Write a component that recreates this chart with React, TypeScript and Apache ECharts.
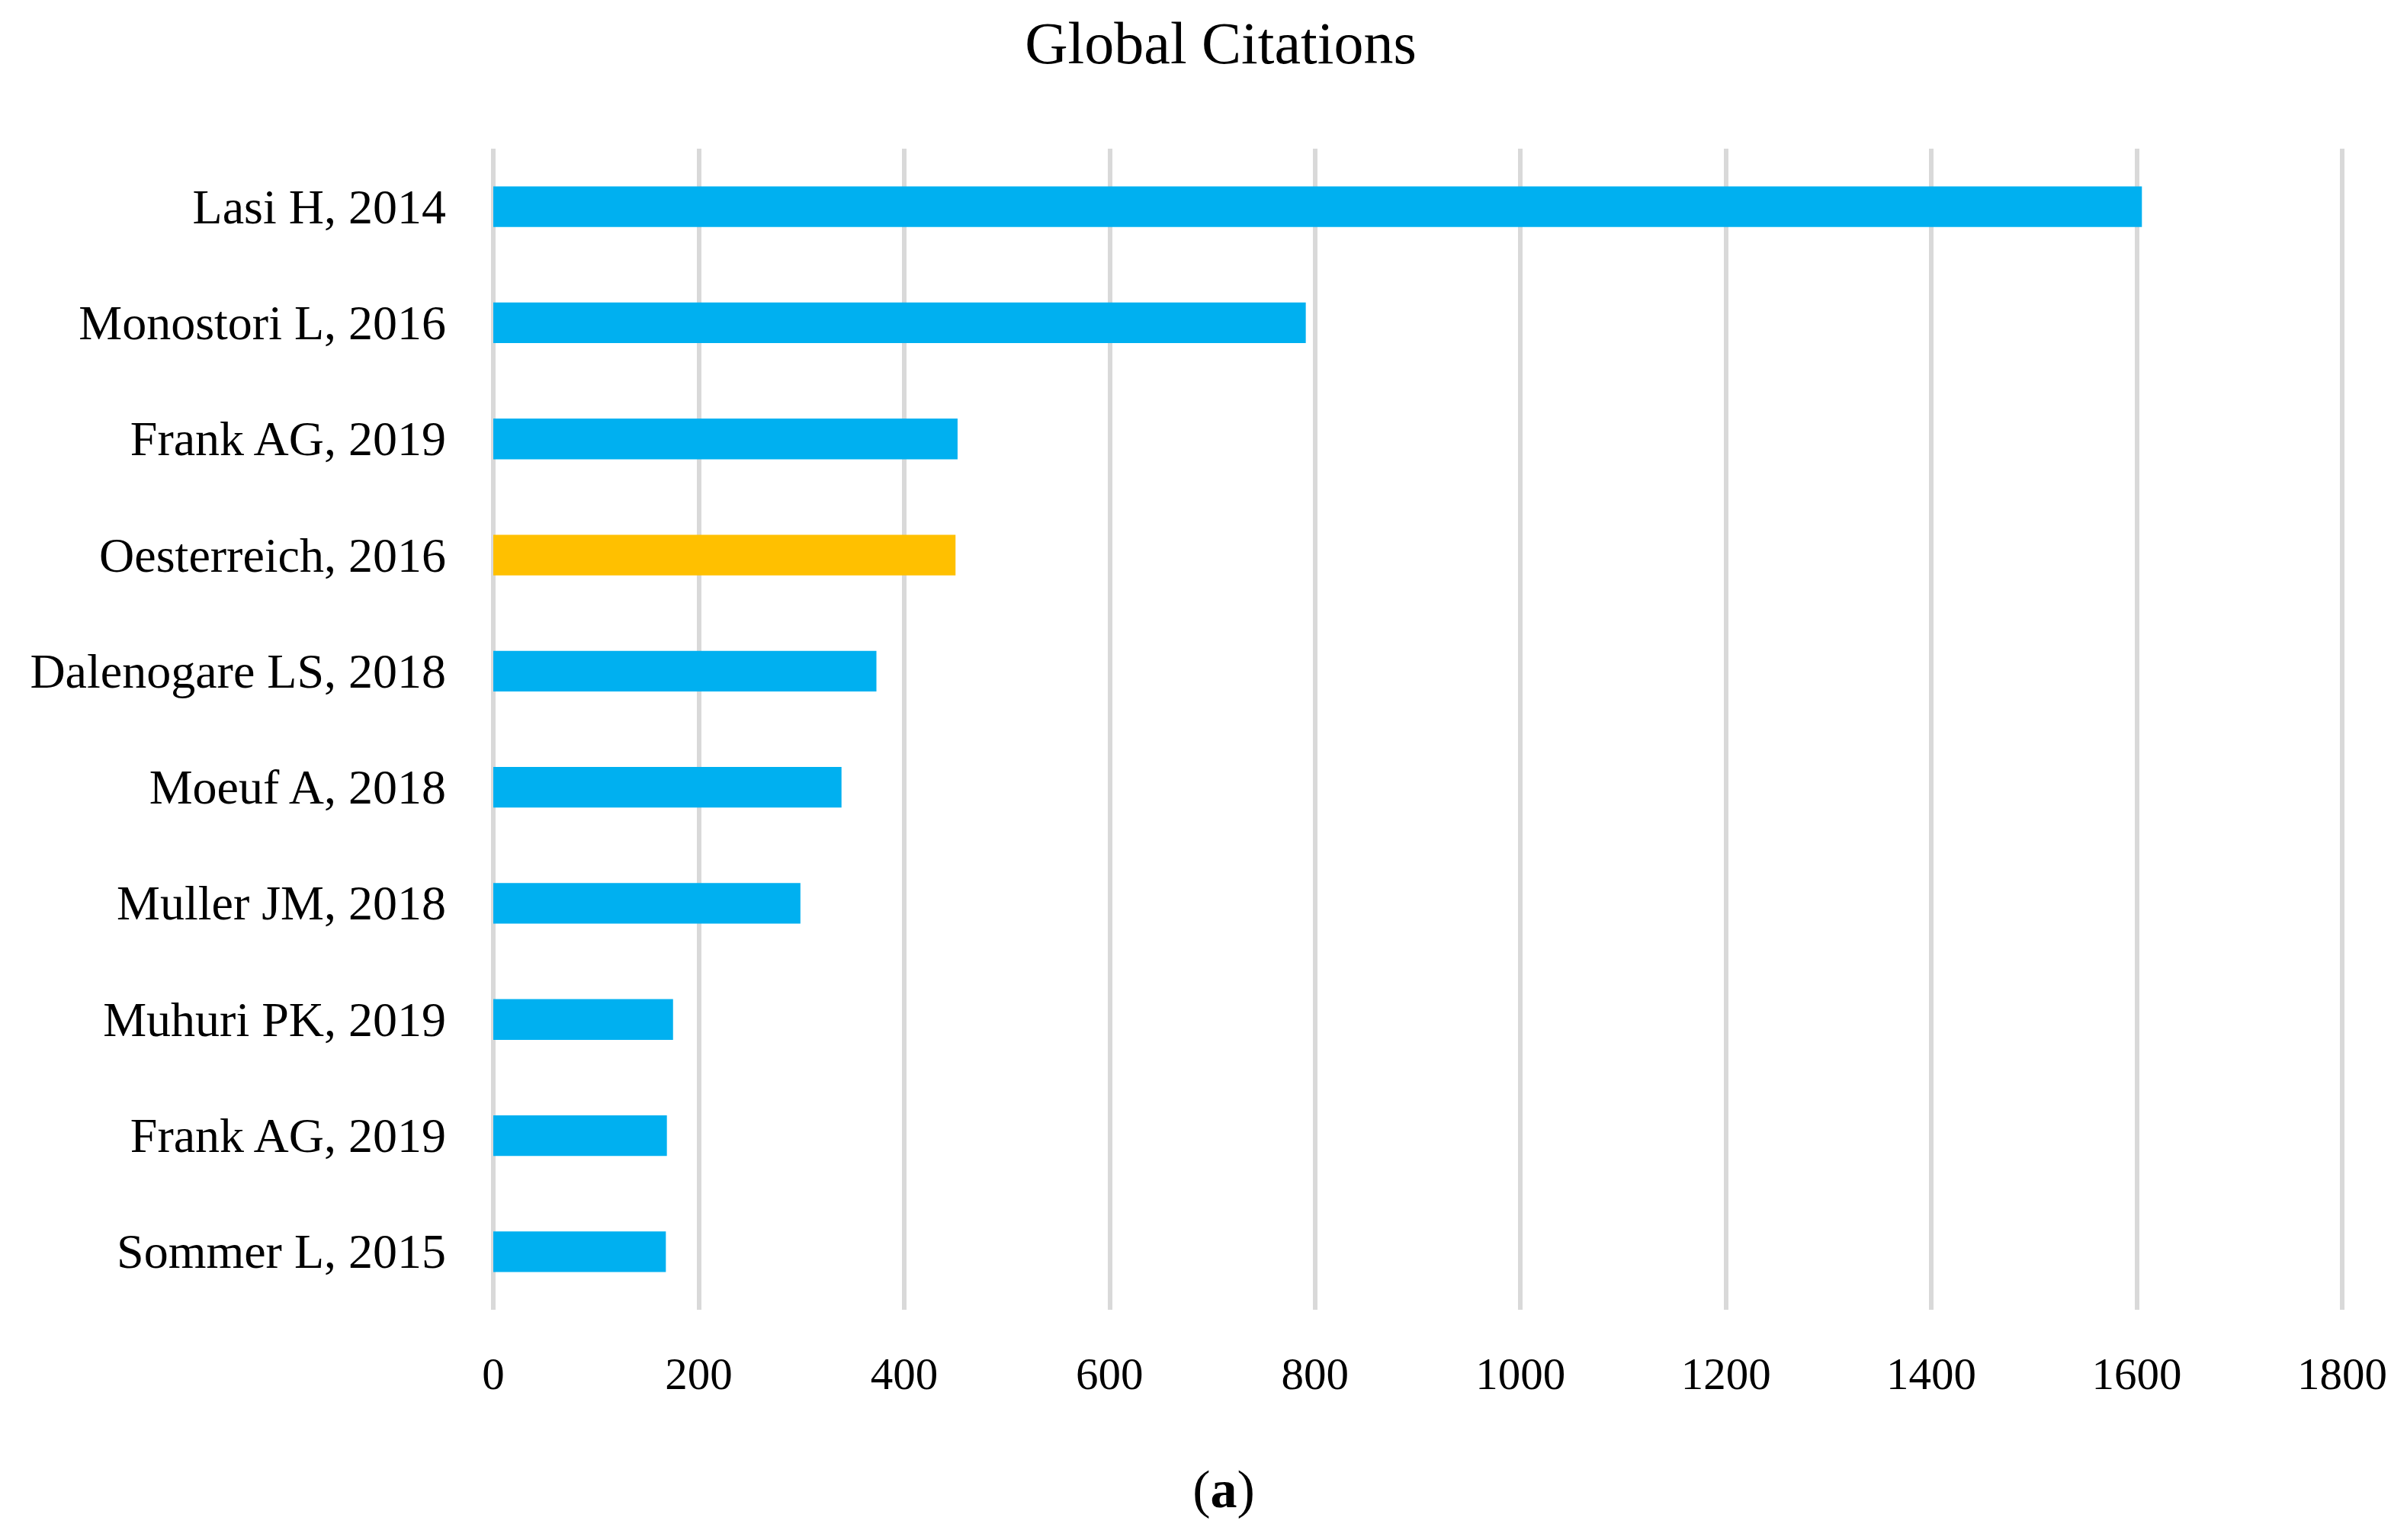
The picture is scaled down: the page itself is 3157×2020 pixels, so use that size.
import React, { useEffect, useRef } from "react";
import * as echarts from "echarts";

const categories = [
  "Lasi H, 2014",
  "Monostori L, 2016",
  "Frank AG, 2019",
  "Oesterreich, 2016",
  "Dalenogare LS, 2018",
  "Moeuf A, 2018",
  "Muller JM, 2018",
  "Muhuri PK, 2019",
  "Frank AG, 2019",
  "Sommer L, 2015",
];
const citations = [1605, 791, 452, 450, 373, 339, 299, 175, 169, 168];
const highlightIndex = 3;
const xTicks = { min: 0, max: 1800, interval: 200 };
const titleText = "Global Citations";

const FONT = "'Liberation Serif', 'Times New Roman', serif";

export default function App() {
  const ref = useRef<HTMLDivElement>(null);
  useEffect(() => {
    if (!ref.current) return;
    const chart = echarts.init(ref.current, null, { renderer: "svg" });
    chart.setOption({
      animation: false,
      backgroundColor: "#ffffff",
      textStyle: { fontFamily: FONT },
      grid: { left: 647, right: 85, top: 195, bottom: 302, containLabel: false },
      xAxis: {
        type: "value",
        min: xTicks.min,
        max: xTicks.max,
        interval: xTicks.interval,
        axisLine: { show: false },
        axisTick: { show: false },
        splitLine: { show: true, lineStyle: { color: "#d9d9d9", width: 6 } },
        axisLabel: {
          fontSize: 59,
          color: "#000",
          margin: 54,
          fontFamily: FONT,
          formatter: (v: number) => String(v),
        },
      },
      yAxis: {
        type: "category",
        inverse: true,
        data: categories.map((_, i) => String(i)),
        axisLine: { show: false },
        axisTick: { show: false },
        splitLine: { show: false },
        axisLabel: {
          fontSize: 64,
          color: "#000",
          margin: 62,
          fontFamily: FONT,
          formatter: (v: string) => categories[Number(v)],
        },
      },
      series: [
        {
          type: "bar",
          barWidth: "35%",
          data: citations.map((v, i) => ({
            value: v,
            itemStyle: { color: i === highlightIndex ? "#FFC000" : "#00B0F0" },
          })),
        },
      ],
      graphic: [
        {
          type: "text",
          x: 1601,
          y: 56,
          style: {
            text: titleText,
            fontSize: 78,
            fontFamily: FONT,
            fill: "#000",
            textAlign: "center",
            textVerticalAlign: "middle",
          },
        },
        {
          type: "text",
          x: 1605,
          y: 1953,
          style: {
            text: "({b|a})",
            fontSize: 70,
            fontFamily: FONT,
            fill: "#000",
            textAlign: "center",
            textVerticalAlign: "middle",
            rich: { b: { fontWeight: "bold", fontSize: 70, fontFamily: FONT } },
          },
        },
      ],
    });
    return () => chart.dispose();
  }, []);
  return (
    <div
      ref={ref}
      style={{ position: "absolute", left: 0, top: 0, width: 3157, height: 2020 }}
    />
  );
}
